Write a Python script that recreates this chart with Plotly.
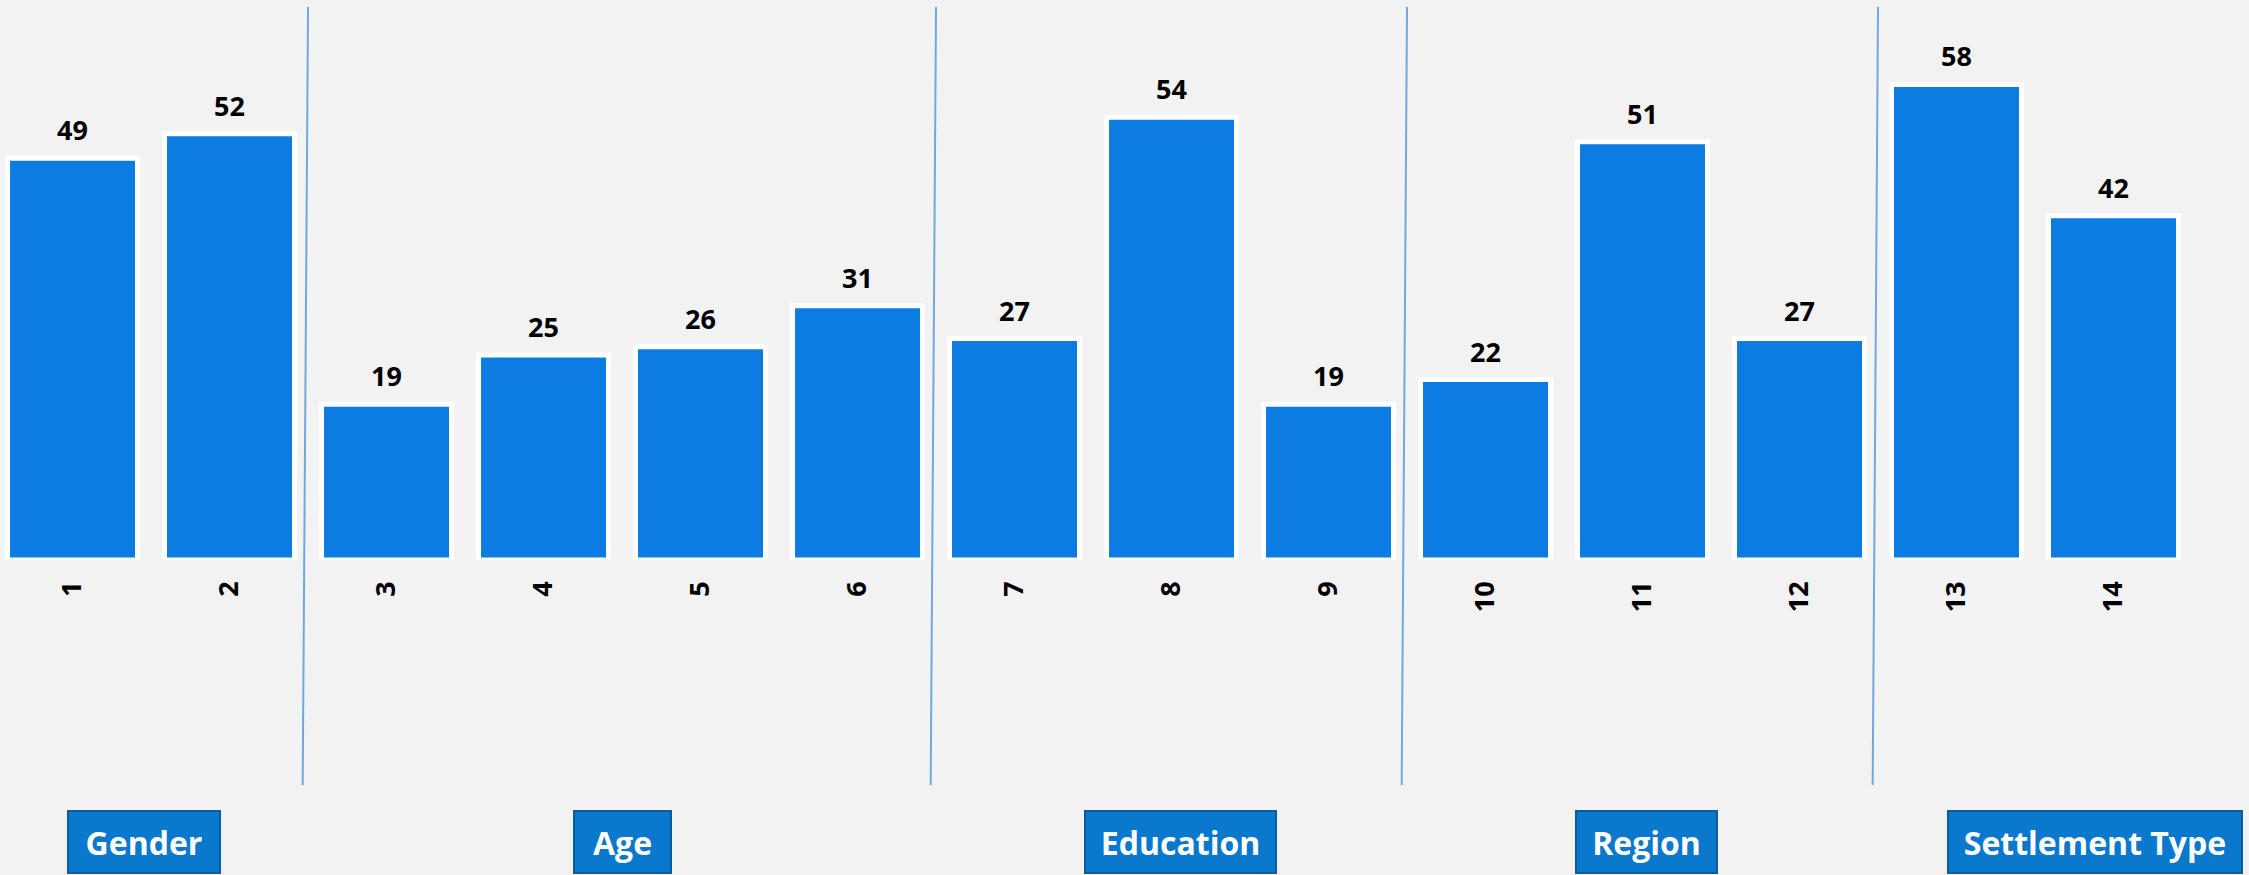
import plotly.graph_objects as go

# ---- data ----
categories = [str(i) for i in range(1, 15)]
values = [49, 52, 19, 25, 26, 31, 27, 54, 19, 22, 51, 27, 58, 42]
group_names = ["Gender", "Age", "Education", "Region", "Settlement Type"]
group_sizes = [2, 4, 3, 3, 2]

# ---- style ----
BG = "#F2F2F2"
BAR = "#0C7CE3"
FONT = "Open Sans"
box_widths = [154, 99, 193, 143, 296]
box_xshift = [-7, 0, 9, 4, 60]

xs = list(range(1, len(values) + 1))

fig = go.Figure()
fig.add_trace(go.Bar(
    x=xs, y=values, width=0.828,
    marker=dict(color=BAR, line=dict(color="white", width=5)),
    hoverinfo="skip",
))

annotations = []
for x, v in zip(xs, values):
    annotations.append(dict(
        x=x, y=v, xref="x", yref="y", text=f"<b>{v}</b>", showarrow=False,
        yanchor="bottom", yshift=8,
        font=dict(family=FONT, size=27, color="black"),
    ))

# group boxes and separators
shapes = []
start = 1
for i, (name, n) in enumerate(zip(group_names, group_sizes)):
    center = start + (n - 1) / 2
    annotations.append(dict(
        x=center, y=-0.5036, xref="x", yref="paper",
        text=f"<b>{name}</b>", showarrow=False,
        xanchor="center", yanchor="middle", xshift=box_xshift[i],
        width=box_widths[i] - 4, height=60, borderpad=0,
        bgcolor="#0A78CC", bordercolor="#0B5C9C", borderwidth=2,
        font=dict(family=FONT, size=32, color="white"),
    ))
    end = start + n
    if i < len(group_names) - 1:
        b = end - 0.5
        shapes.append(dict(
            type="line", xref="x", yref="paper",
            x0=b, y0=0.9875, x1=b - 0.034, y1=-0.4018,
            line=dict(color="#6FA8DC", width=2),
        ))
    start = end

fig.update_layout(
    width=2249, height=875,
    margin=dict(l=0, r=0, t=0, b=315, autoexpand=False),
    paper_bgcolor=BG, plot_bgcolor=BG,
    showlegend=False,
    annotations=annotations, shapes=shapes,
    xaxis=dict(
        range=[0.538, 14.863], tickmode="array", tickvals=xs, ticktext=categories,
        tickangle=-90, showgrid=False, zeroline=False, showline=False,
        ticks="", ticklabelstandoff=15,
        tickfont=dict(family=FONT, size=27, color="black", weight="bold"),
    ),
    yaxis=dict(range=[0, 68.3], visible=False, showgrid=False, zeroline=False),
)

fig.write_html(
    "out.html",
    config={"displayModeBar": False},
    post_script="document.body.style.margin='0';document.body.style.overflow='hidden';",
)
